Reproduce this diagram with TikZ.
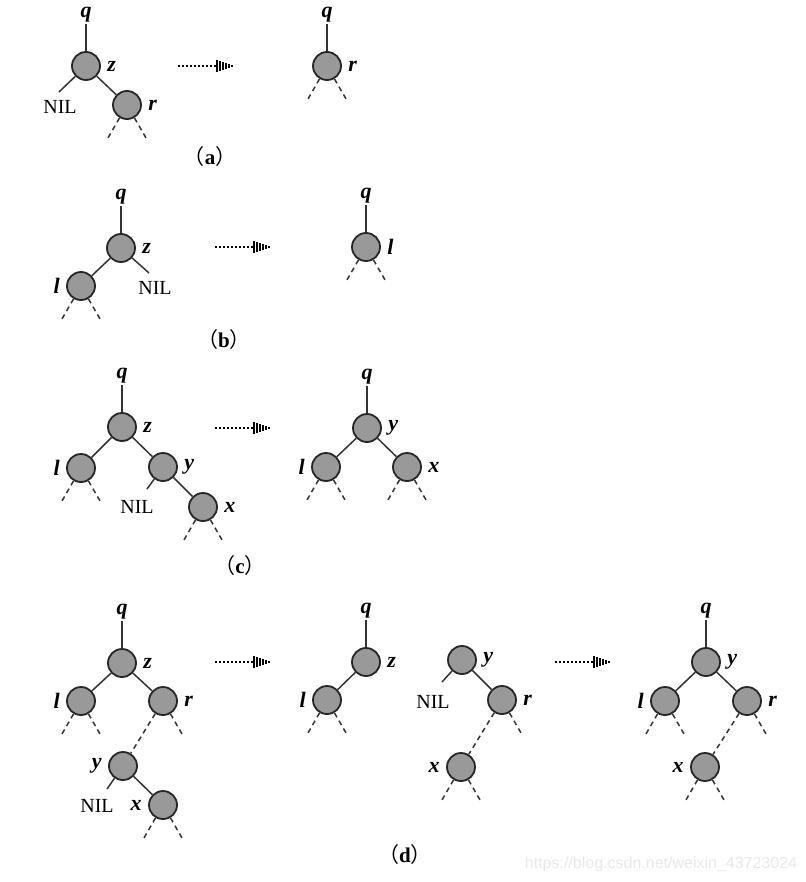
\documentclass[tikz,border=0pt]{standalone}
\usepackage{fontspec}
\setmainfont{Liberation Serif}
\setsansfont{Liberation Sans}
\newfontfamily\cjk{Noto Sans CJK SC}
\usetikzlibrary{positioning}
\tikzset{
  tnode/.style={circle,draw=black!85,fill=black!40,line width=0.9pt,minimum size=14pt,inner sep=0pt},
  lab/.style={font=\fontsize{11}{13}\selectfont\bfseries\itshape,inner sep=1pt},
  nil/.style={inner sep=1pt},
  subcap/.style={font=\fontsize{10.5}{12}\selectfont},
  edge/.style={line width=0.75pt,black!80},
  stub/.style={line width=0.75pt,black!80,dash pattern=on 2.5pt off 2pt},
  ptr/.pic={
    \draw[line width=1pt,densely dotted] (0,0) -- (38,0);
    \foreach \i/\h in {0/6,1/5,2/4,3/3,4/2,5/1}
      \draw[line width=0.9pt] (39+3*\i,-\h) -- (39+3*\i,\h);
  }
}
\begin{document}
\begin{tikzpicture}[x=0.5pt,y=-0.5pt,font=\fontsize{10}{12}\selectfont]
\useasboundingbox (0,0) rectangle (806,882);
% (a)
\node[tnode] (az) at (86,66) {};
\node[lab,above=13.5pt of az] (aq) {q};
\node[lab,right=2pt of az] (azl) {z};
\node[tnode] (ar) at (127,105) {};
\node[lab,right=2pt of ar] (arl) {r};
\node[nil] (anil) at (60,107) {NIL};
\coordinate (anilend) at (59,92);
\draw[edge] (aq) -- (az);
\draw[edge] (az) -- (ar);
\draw[edge] (az) -- (anilend);
\pic at (178,66) {ptr};
\node[tnode] (ar2) at (327,66) {};
\node[lab,above=13.5pt of ar2] (aq2) {q};
\node[lab,right=2pt of ar2] (ar2l) {r};
\draw[edge] (aq2) -- (ar2);
\node[subcap] (capa) at (210,157) {{\cjk （}\textbf{a}{\cjk ）}};
% (b)
\node[tnode] (bz) at (121,248) {};
\node[lab,above=13.5pt of bz] (bq) {q};
\node[lab,right=2pt of bz] (bzl) {z};
\node[tnode] (bl) at (81,286) {};
\node[lab,left=2pt of bl] (bll) {l};
\node[nil] (bnil) at (155,288) {NIL};
\coordinate (bnilend) at (149,273);
\draw[edge] (bq) -- (bz);
\draw[edge] (bz) -- (bl);
\draw[edge] (bz) -- (bnilend);
\pic at (215,247) {ptr};
\node[tnode] (bl2) at (366,247) {};
\node[lab,above=13.5pt of bl2] (bq2) {q};
\node[lab,right=2pt of bl2] (bl2l) {l};
\draw[edge] (bq2) -- (bl2);
\node[subcap] (capb) at (224,340) {{\cjk （}\textbf{b}{\cjk ）}};
% (c)
\node[tnode] (cz) at (122,427) {};
\node[lab,above=13.5pt of cz] (cq) {q};
\node[lab,right=2pt of cz] (czl) {z};
\node[tnode] (cl) at (81,468) {};
\node[lab,left=2pt of cl] (cll) {l};
\node[tnode] (cy) at (163,467) {};
\node[lab,right=2pt of cy] (cyl) {y};
\node[nil] (cnil) at (137,507) {NIL};
\coordinate (cnilend) at (147,489);
\node[tnode] (cx) at (203,507) {};
\node[lab,right=2pt of cx] (cxl) {x};
\draw[edge] (cq) -- (cz);
\draw[edge] (cz) -- (cl);
\draw[edge] (cz) -- (cy);
\draw[edge] (cy) -- (cnilend);
\draw[edge] (cy) -- (cx);
\pic at (215,428) {ptr};
\node[tnode] (cy2) at (367,428) {};
\node[lab,above=13.5pt of cy2] (cq2) {q};
\node[lab,right=2pt of cy2] (cy2l) {y};
\node[tnode] (cl2) at (326,467) {};
\node[lab,left=2pt of cl2] (cl2l) {l};
\node[tnode] (cx2) at (407,467) {};
\node[lab,right=2pt of cx2] (cx2l) {x};
\draw[edge] (cq2) -- (cy2);
\draw[edge] (cy2) -- (cl2);
\draw[edge] (cy2) -- (cx2);
\node[subcap] (capc) at (240,566) {{\cjk （}\textbf{c}{\cjk ）}};
% (d)
\node[tnode] (dz) at (122,663) {};
\node[lab,above=13.5pt of dz] (dq) {q};
\node[lab,right=2pt of dz] (dzl) {z};
\node[tnode] (dl) at (81,701) {};
\node[lab,left=2pt of dl] (dll) {l};
\node[tnode] (dr) at (163,701) {};
\node[lab,right=2pt of dr] (drl) {r};
\node[tnode] (dy) at (123,766) {};
\node[lab,left=2pt of dy] (dyl) {y};
\node[nil] (dnil) at (97,806) {NIL};
\coordinate (dnilend) at (107,789);
\node[tnode] (dx) at (163,805) {};
\node[lab,left=2pt of dx] (dxl) {x};
\draw[edge] (dq) -- (dz);
\draw[edge] (dz) -- (dl);
\draw[edge] (dz) -- (dr);
\draw[stub] (dr) -- (dy);
\draw[edge] (dy) -- (dnilend);
\draw[edge] (dy) -- (dx);
\pic at (215,662) {ptr};
\node[tnode] (dz2) at (366,662) {};
\node[lab,above=13.5pt of dz2] (dq2) {q};
\node[lab,right=2pt of dz2] (dz2l) {z};
\node[tnode] (dl2) at (327,700) {};
\node[lab,left=2pt of dl2] (dl2l) {l};
\draw[edge] (dq2) -- (dz2);
\draw[edge] (dz2) -- (dl2);
\node[tnode] (dy3) at (462,660) {};
\node[lab,right=2pt of dy3] (dy3l) {y};
\node[nil] (dnil3) at (433,702) {NIL};
\coordinate (dnil3end) at (442,682);
\node[tnode] (dr3) at (502,700) {};
\node[lab,right=2pt of dr3] (dr3l) {r};
\node[tnode] (dx3) at (461,767) {};
\node[lab,left=2pt of dx3] (dx3l) {x};
\draw[edge] (dy3) -- (dnil3end);
\draw[edge] (dy3) -- (dr3);
\draw[stub] (dr3) -- (dx3);
\pic at (555,662) {ptr};
\node[tnode] (dy4) at (706,662) {};
\node[lab,above=13.5pt of dy4] (dq4) {q};
\node[lab,right=2pt of dy4] (dy4l) {y};
\node[tnode] (dl4) at (665,701) {};
\node[lab,left=2pt of dl4] (dl4l) {l};
\node[tnode] (dr4) at (747,701) {};
\node[lab,right=2pt of dr4] (dr4l) {r};
\node[tnode] (dx4) at (705,767) {};
\node[lab,left=2pt of dx4] (dx4l) {x};
\draw[edge] (dq4) -- (dy4);
\draw[edge] (dy4) -- (dl4);
\draw[edge] (dy4) -- (dr4);
\draw[stub] (dr4) -- (dx4);
\node[subcap] (capd) at (405,855) {{\cjk （}\textbf{d}{\cjk ）}};
% dashed stubs
\foreach \n in {ar,ar2,bl,bl2,cl,cx,cl2,cx2,dl,dx,dl2,dx3,dl4,dx4}{
  \draw[stub] (\n.-120) -- ++(-120:12pt);
  \draw[stub] (\n.-60) -- ++(-60:12pt);
}
\foreach \n in {dr,dr3,dr4}
  \draw[stub] (\n.-60) -- ++(-60:12pt);
\node[font=\sffamily\fontsize{8}{9.6}\selectfont,text=black!9] (mark) at (661,864) {https://blog.csdn.net/weixin\_43723024};
\end{tikzpicture}
\end{document}
